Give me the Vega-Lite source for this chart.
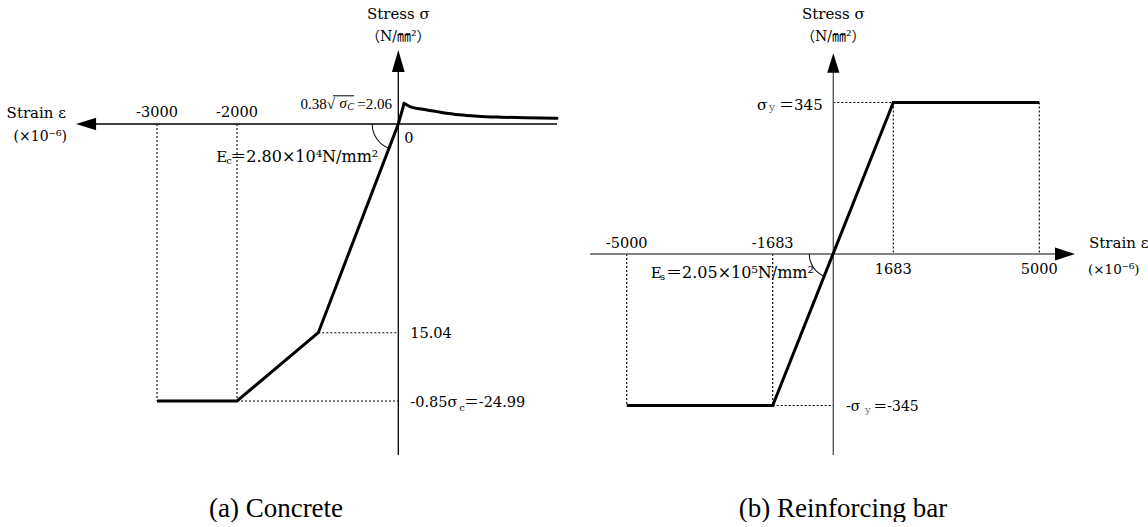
{
  "$schema": "https://vega.github.io/schema/vega-lite/v6.json",
  "background": "white",
  "padding": 0,
  "spacing": 0,
  "bounds": "flush",
  "config": {
    "view": {"stroke": null},
    "text": {"font": "DejaVu Serif, Noto Sans CJK JP", "fontSize": 14.5, "color": "black"},
    "concat": {"spacing": 0}
  },
  "datasets": {
    "c_curve": [
      {"strain": -3000, "stress": -24.99},
      {"strain": -2000, "stress": -24.99},
      {"strain": -537, "stress": -15.04},
      {"strain": 0, "stress": 0},
      {"strain": 73.6, "stress": 2.06}
    ],
    "c_tension": [
      {"strain": 73.6, "stress": 2.06},
      {"strain": 146, "stress": 1.74},
      {"strain": 311, "stress": 1.46},
      {"strain": 518, "stress": 1.19},
      {"strain": 766, "stress": 0.92},
      {"strain": 1000, "stress": 0.78},
      {"strain": 1300, "stress": 0.68},
      {"strain": 1600, "stress": 0.61},
      {"strain": 2000, "stress": 0.56}
    ],
    "c_axes": [
      {"strain": -3850, "strain2": 2000, "stress": 0, "stress2": 0},
      {"strain": 0, "strain2": 0, "stress": -32.86, "stress2": 5.6}
    ],
    "c_guides": [
      {"strain": -3000, "strain2": -3000, "stress": 0, "stress2": -24.99},
      {"strain": -2000, "strain2": -2000, "stress": 0, "stress2": -24.99},
      {"strain": -537, "strain2": 0, "stress": -15.04, "stress2": -15.04},
      {"strain": -2000, "strain2": 0, "stress": -24.99, "stress2": -24.99}
    ],
    "origin": [{"strain": 0, "stress": 0}],
    "c_arrow_left": [{"strain": -3887, "stress": 0}],
    "c_arrow_up": [{"strain": 0, "stress": 6.27}],
    "c_peak": [{"strain": 0, "stress": 2.06}],
    "c_ticks": [
      {"label": "-3000", "strain": -3000, "stress": 0},
      {"label": "-2000", "strain": -2000, "stress": 0}
    ],
    "c_tip_y": [{"strain": 0, "stress": 7.36}],
    "c_tip_x": [{"strain": -4012, "stress": 0}],
    "c_1504": [{"label": "15.04", "strain": 0, "stress": -15.04}],
    "c_2499": [{"strain": 0, "stress": -24.99}],
    "r_curve": [
      {"strain": -5000, "stress": -345},
      {"strain": -1683, "stress": -345},
      {"strain": 1683, "stress": 345},
      {"strain": 5000, "stress": 345}
    ],
    "r_axes": [
      {"strain": -5834, "strain2": 5420, "stress": 0, "stress2": 0},
      {"strain": 0, "strain2": 0, "stress": -457.7, "stress2": 420}
    ],
    "r_guides": [
      {"strain": 1683, "strain2": 1683, "stress": 345, "stress2": 0},
      {"strain": 5000, "strain2": 5000, "stress": 345, "stress2": 0},
      {"strain": 0, "strain2": 1683, "stress": 345, "stress2": 345},
      {"strain": -1683, "strain2": 0, "stress": -345, "stress2": -345},
      {"strain": -5000, "strain2": -5000, "stress": 0, "stress2": -345},
      {"strain": -1683, "strain2": -1683, "stress": 0, "stress2": -345}
    ],
    "r_arrow_right": [{"strain": 5584, "stress": 0}],
    "r_arrow_up": [{"strain": 0, "stress": 435}],
    "r_ticks_top": [
      {"label": "-5000", "strain": -5000, "stress": 0},
      {"label": "-1683", "strain": -1683, "stress": 0}
    ],
    "r_ticks_bottom": [
      {"label": "1683", "strain": 1683, "stress": 0},
      {"label": "5000", "strain": 5000, "stress": 0}
    ],
    "r_tip_y": [{"strain": 0, "stress": 457}],
    "r_tip_x": [{"strain": 5811, "stress": 0}],
    "r_yield": [{"strain": 0, "stress": 345}],
    "r_yield_neg": [{"strain": 0, "stress": -345}]
  },
  "hconcat": [
    {
      "width": 574,
      "height": 490,
      "title": {"text": "(a) Concrete", "orient": "bottom", "anchor": "middle", "frame": "group", "offset": 6, "font": "Liberation Serif", "fontSize": 27, "fontWeight": "normal", "color": "black", "dx": -11},
      "encoding": {
        "x": {"field": "strain", "type": "quantitative", "axis": null,
              "scale": {"domain": [-3000, -2000, -537, 0, 2000], "range": [157, 237, 318.3, 398.3, 557], "nice": false, "zero": false}},
        "y": {"field": "stress", "type": "quantitative", "axis": null,
              "scale": {"domain": [-24.99, -15.04, 0, 2.06], "range": [401, 332.7, 124, 103.3], "nice": false, "zero": false}}
      },
      "layer": [
        {"data": {"name": "c_guides"}, "mark": {"type": "rule", "color": "black", "strokeWidth": 1.1, "strokeDash": [2, 2]},
         "encoding": {"x2": {"field": "strain2"}, "y2": {"field": "stress2"}}},
        {"data": {"name": "c_axes"}, "mark": {"type": "rule", "color": "black", "strokeWidth": 1.3},
         "encoding": {"x2": {"field": "strain2"}, "y2": {"field": "stress2"}}},
        {"data": {"name": "c_arrow_left"}, "mark": {"type": "point", "shape": "M1,-0.62L-1,0L1,0.62Z", "size": 400, "filled": true, "color": "black", "opacity": 1, "strokeWidth": 0}},
        {"data": {"name": "c_arrow_up"}, "mark": {"type": "point", "shape": "M-0.58,1L0,-1L0.58,1Z", "size": 484, "filled": true, "color": "black", "opacity": 1, "strokeWidth": 0}},
        {"data": {"name": "origin"}, "mark": {"type": "arc", "theta": 3.507, "theta2": 4.712, "radius": 26.6, "radius2": 25.6, "color": "black"}},
        {"data": {"name": "c_curve"}, "mark": {"type": "line", "color": "black", "strokeWidth": 3, "strokeJoin": "miter"}},
        {"data": {"name": "c_tension"}, "mark": {"type": "line", "color": "black", "strokeWidth": 3, "interpolate": "monotone", "strokeCap": "round"}},
        {"data": {"name": "c_ticks"}, "mark": {"type": "text", "dy": -11}, "encoding": {"text": {"field": "label"}}},
        {"data": {"name": "c_tip_y"}, "mark": {"type": "text", "dy": -36, "fontSize": 15, "text": "Stress σ"}},
        {"data": {"name": "c_tip_y"}, "mark": {"type": "text", "dy": -13, "fontSize": 14, "text": "（N/㎜²）"}},
        {"data": {"name": "c_tip_x"}, "mark": {"type": "text", "align": "right", "dx": -10, "dy": -11, "fontSize": 15, "text": "Strain ε"}},
        {"data": {"name": "c_tip_x"}, "mark": {"type": "text", "align": "right", "dx": -9, "dy": 13, "fontSize": 14, "text": "(×10⁻⁶)"}},
        {"data": {"name": "origin"}, "mark": {"type": "text", "align": "left", "dx": 6, "dy": 15, "text": "0"}},
        {"data": {"name": "c_1504"}, "mark": {"type": "text", "align": "left", "dx": 12, "dy": 1.3}, "encoding": {"text": {"field": "label"}}},
        {"data": {"name": "c_2499"}, "mark": {"type": "text", "align": "left", "dx": 12, "dy": 2.3, "text": "-0.85σ"}},
        {"data": {"name": "c_2499"}, "mark": {"type": "text", "align": "left", "dx": 61, "dy": 7, "fontSize": 10, "text": "c"}},
        {"data": {"name": "c_2499"}, "mark": {"type": "text", "align": "left", "dx": 66, "dy": 2.3, "text": "＝-24.99"}},
        {"data": {"name": "origin"}, "mark": {"type": "text", "align": "left", "dx": -182, "dy": 33, "fontSize": 15, "text": "E"}},
        {"data": {"name": "origin"}, "mark": {"type": "text", "align": "left", "dx": -172, "dy": 37, "fontSize": 10, "text": "c"}},
        {"data": {"name": "origin"}, "mark": {"type": "text", "align": "left", "dx": -168, "dy": 33, "fontSize": 16, "text": "＝2.80×10⁴N/mm²"}},
        {"data": {"name": "c_peak"}, "mark": {"type": "text", "align": "right", "dx": -6.3, "dy": 1, "font": "Liberation Serif", "fontSize": 15, "text": "=2.06"}},
        {"data": {"name": "c_peak"}, "mark": {"type": "text", "align": "right", "dx": -44.3, "dy": 4, "font": "Liberation Serif", "fontStyle": "italic", "fontSize": 10, "text": "C"}},
        {"data": {"name": "c_peak"}, "mark": {"type": "text", "align": "right", "dx": -51.3, "dy": 0, "font": "Liberation Serif", "fontStyle": "italic", "fontSize": 15, "text": "σ"}},
        {"data": {"name": "c_peak"}, "mark": {"type": "text", "align": "right", "dx": -63.3, "dy": 1, "font": "Liberation Serif", "fontSize": 15, "text": "0.38√"}},
        {"data": {"name": "c_peak"}, "mark": {"type": "rule", "color": "black", "strokeWidth": 1, "xOffset": -65.3, "x2Offset": -44.3, "yOffset": -7.5, "y2Offset": -7.5},
         "encoding": {"x2": {"field": "strain"}, "y2": {"field": "stress"}}}
      ]
    },
    {
      "width": 574,
      "height": 490,
      "title": {"text": "(b) Reinforcing bar", "orient": "bottom", "anchor": "middle", "frame": "group", "offset": 6, "font": "Liberation Serif", "fontSize": 27, "fontWeight": "normal", "color": "black", "dx": -18},
      "encoding": {
        "x": {"field": "strain", "type": "quantitative", "axis": null,
              "scale": {"domain": [-5000, -1683, 0, 1683, 5000], "range": [52.7, 198.7, 259.3, 319.3, 465.3], "nice": false, "zero": false}},
        "y": {"field": "stress", "type": "quantitative", "axis": null,
              "scale": {"domain": [-345, 345], "range": [405.5, 102.5], "nice": false, "zero": false}}
      },
      "layer": [
        {"data": {"name": "r_guides"}, "mark": {"type": "rule", "color": "black", "strokeWidth": 1.1, "strokeDash": [2, 2]},
         "encoding": {"x2": {"field": "strain2"}, "y2": {"field": "stress2"}}},
        {"data": {"name": "r_axes"}, "mark": {"type": "rule", "color": "#5a5a5a", "strokeWidth": 1.4},
         "encoding": {"x2": {"field": "strain2"}, "y2": {"field": "stress2"}}},
        {"data": {"name": "r_arrow_right"}, "mark": {"type": "point", "shape": "M-1,-0.65L1,0L-1,0.65Z", "size": 400, "filled": true, "color": "black", "opacity": 1, "strokeWidth": 0}},
        {"data": {"name": "r_arrow_up"}, "mark": {"type": "point", "shape": "M-0.63,1L0,-1L0.63,1Z", "size": 376, "filled": true, "color": "black", "opacity": 1, "strokeWidth": 0}},
        {"data": {"name": "origin"}, "mark": {"type": "arc", "theta": 3.522, "theta2": 4.712, "radius": 24.5, "radius2": 23.5, "color": "black"}},
        {"data": {"name": "r_curve"}, "mark": {"type": "line", "color": "black", "strokeWidth": 3, "strokeJoin": "miter"}},
        {"data": {"name": "r_ticks_top"}, "mark": {"type": "text", "dy": -10}, "encoding": {"text": {"field": "label"}}},
        {"data": {"name": "r_ticks_bottom"}, "mark": {"type": "text", "dy": 16}, "encoding": {"text": {"field": "label"}}},
        {"data": {"name": "r_tip_y"}, "mark": {"type": "text", "dy": -39, "fontSize": 15, "text": "Stress σ"}},
        {"data": {"name": "r_tip_y"}, "mark": {"type": "text", "dy": -16, "fontSize": 14, "text": "（N/㎜²）"}},
        {"data": {"name": "r_tip_x"}, "mark": {"type": "text", "align": "left", "dx": 14, "dy": -11, "fontSize": 15, "text": "Strain ε"}},
        {"data": {"name": "r_tip_x"}, "mark": {"type": "text", "align": "left", "dx": 13, "dy": 16, "fontSize": 13.5, "text": "(×10⁻⁶)"}},
        {"data": {"name": "r_yield"}, "mark": {"type": "text", "align": "right", "dx": -10.6, "dy": 2.5, "fontSize": 15, "text": "＝345"}},
        {"data": {"name": "r_yield"}, "mark": {"type": "text", "align": "right", "dx": -58, "dy": 5, "fontSize": 11, "color": "#666666", "text": "y"}},
        {"data": {"name": "r_yield"}, "mark": {"type": "text", "align": "right", "dx": -66, "dy": 2.5, "fontSize": 15, "text": "σ"}},
        {"data": {"name": "r_yield_neg"}, "mark": {"type": "text", "align": "left", "dx": 12.7, "dy": 1.2, "fontSize": 14, "text": "-σ"}},
        {"data": {"name": "r_yield_neg"}, "mark": {"type": "text", "align": "left", "dx": 31.7, "dy": 4, "fontSize": 10, "color": "#666666", "text": "y"}},
        {"data": {"name": "r_yield_neg"}, "mark": {"type": "text", "align": "left", "dx": 40, "dy": 1.2, "fontSize": 14, "text": "＝-345"}},
        {"data": {"name": "origin"}, "mark": {"type": "text", "align": "left", "dx": -182.6, "dy": 18.7, "fontSize": 15, "text": "E"}},
        {"data": {"name": "origin"}, "mark": {"type": "text", "align": "left", "dx": -173.3, "dy": 23, "fontSize": 10, "text": "s"}},
        {"data": {"name": "origin"}, "mark": {"type": "text", "align": "left", "dx": -167.3, "dy": 18.7, "fontSize": 16, "text": "＝2.05×10⁵N/mm²"}}
      ]
    }
  ]
}
